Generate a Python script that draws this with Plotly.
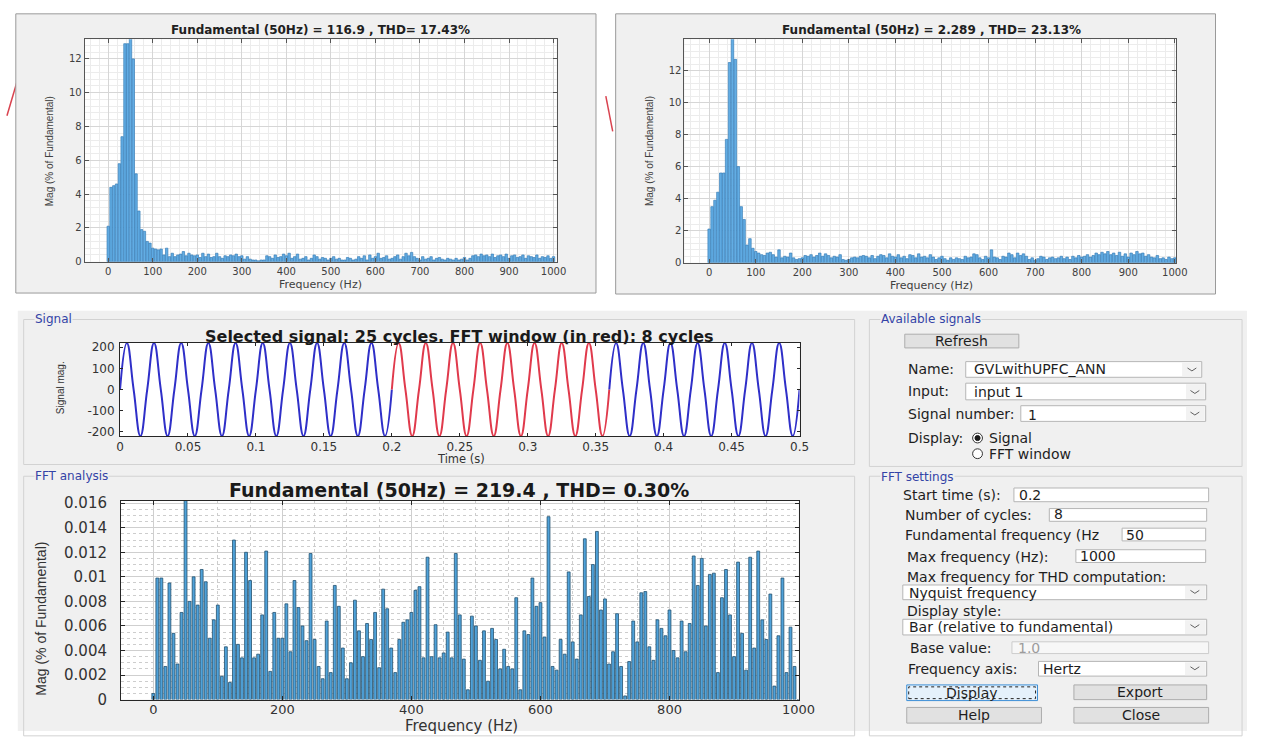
import plotly.graph_objects as go

W, H = 1263, 738

# ---------------- data ----------------
bin_hz = 6.25
freqs = [i * bin_hz for i in range(161)]

# upper-left FFT window (Mag % of fundamental); 50 Hz fundamental is off-scale
mag_upper_left = [
    2.1, 4.4, 4.5, 4.6, 5.8, 7.4, 12.9, 12.9, 100.0, 12.0,
    5.2, 3.0, 1.9, 1.8, 1.2, 1.1, 0.8, 0.75, 0.7, 0.75,
    0.4, 0.8, 0.3, 0.5, 0.3, 0.4, 0.45, 0.6, 0.35, 0.5,
    0.4, 0.35, 0.4, 0.25, 0.5, 0.3, 0.45, 0.25, 0.3, 0.5,
    0.3, 0.2, 0.35, 0.3, 0.4, 0.35, 0.45, 0.3, 0.35, 0.15,
    0.3, 0.15, 0.1, 0.1, 0.05, 0.1, 0.1, 0.35, 0.3, 0.2,
    0.4, 0.25, 0.3, 0.45, 0.35, 0.5, 0.2, 0.3, 0.45, 0.15,
    0.2, 0.3, 0.1, 0.2, 0.4, 0.3, 0.15, 0.25, 0.2, 0.1,
    0.2, 0.3, 0.15, 0.2, 0.1, 0.1, 0.25, 0.2, 0.1, 0.15,
    0.3, 0.2, 0.35, 0.1, 0.4, 0.2, 0.3, 0.5, 0.2, 0.25,
    0.35, 0.15, 0.2, 0.3, 0.4, 0.15, 0.3, 0.5, 0.35, 0.55,
    0.3, 0.2, 0.1, 0.3, 0.15, 0.2, 0.3, 0.1, 0.2, 0.25,
    0.15, 0.1, 0.2, 0.15, 0.1, 0.2, 0.1, 0.15, 0.25, 0.1,
    0.2, 0.35, 0.4, 0.3, 0.45, 0.35, 0.4, 0.3, 0.45, 0.25,
    0.35, 0.4, 0.3, 0.45, 0.2, 0.35, 0.4, 0.25, 0.3, 0.4,
    0.2, 0.35, 0.3, 0.25, 0.4, 0.2, 0.3, 0.25, 0.35, 0.2,
    0.3,
]

mag_upper_right = [
    2.1, 3.5, 3.9, 4.4, 5.6, 5.6, 7.7, 12.5, 100.0, 12.7,
    6.0, 3.5, 2.7, 1.1, 1.5, 0.9, 0.7, 0.6, 0.5, 0.45,
    0.6, 0.65, 0.5, 0.35, 0.8, 0.3, 0.4, 0.35, 0.6, 0.3,
    0.2, 0.25, 0.3, 0.45, 0.4, 0.5, 0.35, 0.45, 0.6, 0.4,
    0.55, 0.45, 0.3, 0.4, 0.35, 0.5, 0.2, 0.15, 0.2, 0.3,
    0.35, 0.3, 0.4, 0.45, 0.4, 0.3, 0.45, 0.25, 0.4, 0.5,
    0.45, 0.3, 0.55, 0.4, 0.35, 0.5, 0.3, 0.4, 0.25, 0.5,
    0.45, 0.3, 0.55, 0.35, 0.4, 0.3, 0.5, 0.35, 0.2, 0.3,
    0.4, 0.25, 0.15, 0.3, 0.2, 0.3, 0.25, 0.2, 0.4, 0.3,
    0.35, 0.55, 0.5, 0.3, 0.2, 0.4, 0.3, 0.8, 0.35, 0.3,
    0.2, 0.4, 0.35, 0.6, 0.5, 0.3, 0.6, 0.45, 0.55, 0.4,
    0.2, 0.3, 0.15, 0.25, 0.4, 0.35, 0.2, 0.3, 0.35, 0.25,
    0.3, 0.4, 0.25, 0.35, 0.2, 0.4, 0.3, 0.45, 0.35, 0.4,
    0.5, 0.35, 0.45, 0.6, 0.5, 0.65, 0.55, 0.7, 0.5, 0.6,
    0.45, 0.65, 0.4, 0.55, 0.35, 0.6, 0.5, 0.7, 0.55, 0.6,
    0.4, 0.5, 0.35, 0.3, 0.45, 0.25, 0.3, 0.2, 0.35, 0.25,
    0.3,
]

mag_fft_analysis = [
    0.0005, 0.0099, 0.0099, 0.0027, 0.0095, 0.0054, 0.0029, 0.0071, 100.0, 0.0080,
    0.0100, 0.0077, 0.0106, 0.0096, 0.0050, 0.0065, 0.0077, 0.0019, 0.0043, 0.0014,
    0.0130, 0.0045, 0.0034, 0.0120, 0.0097, 0.0034, 0.0037, 0.0069, 0.0121, 0.0023,
    0.0071, 0.0050, 0.0050, 0.0078, 0.0039, 0.0097, 0.0075, 0.0060, 0.0048, 0.0119,
    0.0049, 0.0027, 0.0017, 0.0064, 0.0022, 0.0093, 0.0076, 0.0042, 0.0017, 0.0030,
    0.0081, 0.0056, 0.0035, 0.0062, 0.0049, 0.0071, 0.0026, 0.0090, 0.0074, 0.0042,
    0.0022, 0.0049, 0.0063, 0.0065, 0.0071, 0.0089, 0.0092, 0.0034, 0.0116, 0.0035,
    0.0061, 0.0034, 0.0038, 0.0055, 0.0034, 0.0119, 0.0069, 0.0033, 0.0008, 0.0068,
    0.0060, 0.0032, 0.0056, 0.0015, 0.0058, 0.0049, 0.0025, 0.0041, 0.0027, 0.0025,
    0.0083, 0.0008, 0.0056, 0.0053, 0.0099, 0.0076, 0.0079, 0.0051, 0.0149, 0.0027,
    0.0024, 0.0049, 0.0037, 0.0104, 0.0047, 0.0033, 0.0069, 0.0131, 0.0084, 0.0110,
    0.0137, 0.0073, 0.0082, 0.0029, 0.0039, 0.0070, 0.0027, 0.0003, 0.0031, 0.0064,
    0.0047, 0.0087, 0.0088, 0.0043, 0.0032, 0.0065, 0.0058, 0.0052, 0.0073, 0.0040,
    0.0034, 0.0064, 0.0039, 0.0062, 0.0117, 0.0093, 0.0115, 0.0060, 0.0102, 0.0103,
    0.0022, 0.0083, 0.0106, 0.0069, 0.0035, 0.0112, 0.0054, 0.0024, 0.0116, 0.0042,
    0.0121, 0.0065, 0.0049, 0.0086, 0.0011, 0.0052, 0.0099, 0.0022, 0.0059, 0.0027,
    0.0,
]

# selected signal: peaks / zero crossings every quarter cycle (50 Hz, 25 cycles)
signal_time = [i * 0.005 for i in range(101)]
signal_mag = [0, 219.4, 0, -219.4] * 25 + [0]
fft_window_start_idx = 40   # t = 0.2 s
fft_window_end_idx = 72     # t = 0.36 s (8 cycles)

title_upper_left = "Fundamental (50Hz) = 116.9 , THD= 17.43%"
title_upper_right = "Fundamental (50Hz) = 2.289 , THD= 23.13%"
title_signal = "Selected signal: 25 cycles. FFT window (in red): 8 cycles"
title_fft = "Fundamental (50Hz) = 219.4 , THD= 0.30%"

top_x_ticks = list(range(0, 1001, 100))
top_y_ticks = [0, 2, 4, 6, 8, 10, 12]
sig_x_ticks = [0, 0.05, 0.1, 0.15, 0.2, 0.25, 0.3, 0.35, 0.4, 0.45, 0.5]
sig_x_text = ["0", "0.05", "0.1", "0.15", "0.2", "0.25", "0.3", "0.35", "0.4", "0.45", "0.5"]
sig_y_ticks = [-200, -100, 0, 100, 200]
sig_y_text = ["-200", "-100", "0", "100", "200"]
fft_x_ticks = [0, 200, 400, 600, 800, 1000]
fft_y_ticks = [0, 0.002, 0.004, 0.006, 0.008, 0.01, 0.012, 0.014, 0.016]
fft_y_text = ["0", "0.002", "0.004", "0.006", "0.008", "0.01", "0.012", "0.014", "0.016"]

# ---------------- helpers ----------------
def fx(x):
    return x / W


def fy(y):
    return 1 - y / H


shapes = []
annotations = []


def rect(x0, y0, x1, y1, fill=None, line=None, lw=1, dash=None):
    shapes.append(dict(
        type="rect", xref="paper", yref="paper",
        x0=fx(x0), x1=fx(x1), y0=fy(y1), y1=fy(y0),
        fillcolor=fill if fill else "rgba(0,0,0,0)",
        line=dict(color=line if line else "rgba(0,0,0,0)", width=lw if line else 0, dash=dash),
        layer="below"))


def seg(x0, y0, x1, y1, color, lw=1):
    shapes.append(dict(type="line", xref="paper", yref="paper",
                       x0=fx(x0), x1=fx(x1), y0=fy(y0), y1=fy(y1),
                       line=dict(color=color, width=lw), layer="below"))


def chevron(cx, cy, color="#606060"):
    path = "M {} {} L {} {} L {} {}".format(fx(cx - 4.5), fy(cy - 1.5), fx(cx), fy(cy + 1.5), fx(cx + 4.5), fy(cy - 1.5))
    shapes.append(dict(type="path", xref="paper", yref="paper", path=path,
                       line=dict(color=color, width=1), layer="above"))


def circle(cx, cy, r, fill=None, line="#333333", lw=1):
    shapes.append(dict(type="circle", xref="paper", yref="paper",
                       x0=fx(cx - r), x1=fx(cx + r), y0=fy(cy + r), y1=fy(cy - r),
                       fillcolor=fill if fill else "rgba(0,0,0,0)",
                       line=dict(color=line, width=lw), layer="above"))


def text(x, y, s, size=13, color="#1e1e1e", anchor="left", family="DejaVu Sans",
         bg=None, angle=0):
    d = dict(x=fx(x), y=fy(y), xref="paper", yref="paper", text=s, showarrow=False,
             xanchor=anchor, yanchor="middle", textangle=angle, borderpad=0,
             font=dict(family=family, size=size, color=color))
    if bg:
        d["bgcolor"] = bg
    annotations.append(d)


GUI_BG = "#f0f0f0"
PANEL_LINE = "#d2d2d2"
TITLE_BLUE = "#3343a6"

# ---------------- top figure windows ----------------
seg(3, 112, 13, 78, "#d9434f", 1.5)
seg(612, 92, 619, 128, "#d9434f", 1.5)
rect(12, 8, 602, 293, fill=GUI_BG, line="#9a9a9a")
rect(622, 8, 1232, 294, fill=GUI_BG, line="#9a9a9a")

TL = (82, 34, 562, 261)
TR = (692, 34, 1192, 262)
SG = (118, 344, 809, 439)
FA = (119, 505, 808, 708)

# ---------------- bottom GUI ----------------
rect(14, 311, 1264, 740, fill=GUI_BG)
rect(20, 320, 865, 468, line=PANEL_LINE)
rect(20, 480, 865, 745, line=PANEL_LINE)
rect(880, 320, 1259, 470, line=PANEL_LINE)
rect(880, 480, 1259, 745, line=PANEL_LINE)

for (x0, y0, x1, y1) in (TL, TR, SG, FA):
    rect(x0, y0, x1, y1, fill="white")

text(31, 320, "Signal", 12, TITLE_BLUE, bg=GUI_BG)
text(31, 480, "FFT analysis", 12, TITLE_BLUE, bg=GUI_BG)
text(891, 320, "Available signals", 12, TITLE_BLUE, bg=GUI_BG)
text(891, 481, "FFT settings", 12, TITLE_BLUE, bg=GUI_BG)

BTN = "#e1e1e1"
BTN_LINE = "#adadad"
BOX_LINE = "#b5b5b5"
LBL = 14

# Available signals
rect(916, 335, 1032, 349, fill=BTN, line=BTN_LINE)
text(974, 342, "Refresh", LBL, anchor="center")

text(918, 371, "Name:", LBL)
rect(978, 363, 1218, 379, fill="white", line=BOX_LINE)
rect(1198, 364, 1217, 378, fill="#f2f2f2")
text(985, 371, "GVLwithUPFC_ANN", LBL)
chevron(1208, 371)

text(918, 393, "Input:", LBL)
rect(978, 385, 1222, 402, fill="white", line=BOX_LINE)
rect(1202, 386, 1221, 401, fill="#f2f2f2")
text(985, 394, "input 1", LBL)
chevron(1211, 394)

text(918, 416, "Signal number:", LBL)
rect(1034, 408, 1222, 424, fill="white", line=BOX_LINE)
rect(1202, 409, 1221, 423, fill="#f2f2f2")
text(1040, 417, "1", LBL)
chevron(1211, 416)

text(918, 441, "Display:", LBL)
circle(990, 441, 5, fill="white", line="#333333")
circle(990, 441, 2.6, fill="#1a1a1a", line="#1a1a1a")
text(1001, 441, "Signal", LBL)
circle(990, 457, 5, fill="white", line="#333333")
text(1001, 457, "FFT window", LBL)

# FFT settings
text(913, 499, "Start time (s):", LBL)
rect(1027, 492, 1225, 506, fill="white", line=BOX_LINE)
text(1031, 499, "0.2", LBL)

text(915, 520, "Number of cycles:", LBL)
rect(1063, 513, 1223, 526, fill="white", line=BOX_LINE)
text(1067, 519, "8", LBL)

text(915, 540, "Fundamental frequency (Hz", LBL)
rect(1137, 533, 1222, 546, fill="white", line=BOX_LINE)
text(1140, 540, "50", LBL)

text(917, 562, "Max frequency (Hz):", LBL)
rect(1090, 555, 1222, 568, fill="white", line=BOX_LINE)
text(1093, 561, "1000", LBL)

text(917, 583, "Max frequency for THD computation:", LBL)
rect(914, 591, 1223, 606, fill="white", line=BOX_LINE)
rect(1201, 592, 1222, 605, fill="#f2f2f2")
text(919, 599, "Nyquist frequency", LBL)
chevron(1211, 598)

text(917, 618, "Display style:", LBL)
rect(914, 626, 1223, 642, fill="white", line=BOX_LINE)
rect(1201, 627, 1222, 641, fill="#f2f2f2")
text(919, 634, "Bar (relative to fundamental)", LBL)
chevron(1211, 633)

text(920, 655, "Base value:", LBL)
rect(1025, 649, 1225, 661, fill="#f7f7f7", line="#cccccc")
text(1030, 655, "1.0", LBL, color="#9c9c9c")

text(918, 677, "Frequency axis:", LBL)
rect(1052, 669, 1223, 684, fill="white", line=BOX_LINE)
rect(1201, 670, 1222, 683, fill="#f2f2f2")
text(1056, 677, "Hertz", LBL)
chevron(1211, 676)

rect(918, 693, 1051, 709, fill="#e5f1fb", line="#3c8fd6")
rect(920, 695, 1049, 707, line="#222222", lw=1, dash="dot")
text(984, 701, "Display", LBL, anchor="center")
rect(1088, 693, 1223, 708, fill=BTN, line=BTN_LINE)
text(1155, 700, "Export", LBL, anchor="center")
rect(918, 716, 1055, 732, fill=BTN, line=BTN_LINE)
text(986, 724, "Help", LBL, anchor="center")
rect(1088, 716, 1225, 732, fill=BTN, line=BTN_LINE)
text(1156, 724, "Close", LBL, anchor="center")

# ---------------- chart titles & axis titles ----------------
text(322, 25, "<b>" + title_upper_left + "</b>", 12, "#202020", anchor="center")
text(943, 25, "<b>" + title_upper_right + "</b>", 12, "#202020", anchor="center")
text(322, 284, "Frequency (Hz)", 11, "#404040", anchor="center")
text(943, 285, "Frequency (Hz)", 11, "#404040", anchor="center")
text(47, 148, "Mag (% of Fundamental)", 10, "#404040", anchor="center",
     family="Liberation Sans", angle=-90)
text(657, 148, "Mag (% of Fundamental)", 10, "#404040", anchor="center",
     family="Liberation Sans", angle=-90)

text(463, 337, "<b>" + title_signal + "</b>", 16, "#1a1a1a", anchor="center")
text(465, 462, "Time (s)", 11.5, "#333333", anchor="center")
text(57, 390, "Signal mag.", 10, "#333333", anchor="center",
     family="Liberation Sans", angle=-90)

text(463, 494, "<b>" + title_fft + "</b>", 19, "#1a1a1a", anchor="center")
text(465, 735, "Frequency (Hz)", 15, "#333333", anchor="center")
text(38, 625, "Mag (% of Fundamental)", 14, "#333333", anchor="center",
     family="Liberation Sans", angle=-90)

# ---------------- traces ----------------
fig = go.Figure()

top_bar_style = dict(marker=dict(color="#62ade4", line=dict(color="#3b7fb8", width=0.7)),
                     width=5.4, hoverinfo="skip", showlegend=False)
fig.add_trace(go.Bar(x=freqs, y=mag_upper_left, xaxis="x", yaxis="y", **top_bar_style))
fig.add_trace(go.Bar(x=freqs, y=mag_upper_right, xaxis="x2", yaxis="y2", **top_bar_style))

segments = [
    (0, fft_window_start_idx, "#2f2fc8"),
    (fft_window_start_idx, fft_window_end_idx, "#e03a4c"),
    (fft_window_end_idx, len(signal_time) - 1, "#2f2fc8"),
]
for a, b, col in segments:
    fig.add_trace(go.Scatter(
        x=signal_time[a:b + 1], y=signal_mag[a:b + 1], mode="lines",
        line=dict(color=col, width=2, shape="spline", smoothing=1.3),
        xaxis="x3", yaxis="y3", hoverinfo="skip", showlegend=False))

fig.add_trace(go.Bar(x=freqs, y=mag_fft_analysis, xaxis="x4", yaxis="y4", width=4.4,
                     marker=dict(color="#4fa2da", line=dict(color="#23506f", width=0.8)),
                     hoverinfo="skip", showlegend=False))

# ---------------- axes ----------------
AX = "#262626"


def base_axis(**kw):
    d = dict(showline=True, linecolor=AX, linewidth=1, mirror="ticks", ticks="inside",
             ticklen=4, tickcolor=AX, tickwidth=1, zeroline=False, fixedrange=True)
    d.update(kw)
    return d


top_tickfont = dict(family="DejaVu Sans", size=10, color="#404040")
top_grid = dict(showgrid=True, gridcolor="#d6d6d6", gridwidth=1)


def top_x(domain, rng, anchor):
    return base_axis(domain=domain, range=rng, anchor=anchor, tickmode="array",
                     tickvals=top_x_ticks, tickfont=top_tickfont, linecolor="#555555",
                     tickcolor="#555555",
                     minor=dict(tickmode="linear", tick0=0, dtick=20, showgrid=True,
                                gridcolor="#ececec", gridwidth=1),
                     **top_grid)


def top_y(domain, rng, anchor):
    return base_axis(domain=domain, range=rng, anchor=anchor, tickmode="array",
                     tickvals=top_y_ticks, tickfont=top_tickfont, linecolor="#555555",
                     tickcolor="#555555",
                     minor=dict(tickmode="linear", tick0=0, dtick=0.4, showgrid=True,
                                gridcolor="#ececec", gridwidth=1),
                     **top_grid)


fig.update_layout(
    xaxis=top_x([fx(TL[0]), fx(TL[2])], [-53, 1007], "y"),
    yaxis=top_y([fy(TL[3]), fy(TL[1])], [0, 13.16], "x"),
    xaxis2=top_x([fx(TR[0]), fx(TR[2])], [-53, 1003], "y2"),
    yaxis2=top_y([fy(TR[3]), fy(TR[1])], [0, 13.95], "x2"),
    xaxis3=base_axis(domain=[fx(SG[0]), fx(SG[2])], range=[0, 0.5], anchor="y3",
                     tickmode="array", tickvals=sig_x_ticks, ticktext=sig_x_text,
                     tickfont=dict(family="DejaVu Sans", size=12, color="#333333"),
                     showgrid=False, ticklen=3),
    yaxis3=base_axis(domain=[fy(SG[3]), fy(SG[1])], range=[-219.4, 219.4], anchor="x3",
                     tickmode="array", tickvals=sig_y_ticks, ticktext=sig_y_text,
                     tickfont=dict(family="DejaVu Sans", size=12, color="#333333"),
                     showgrid=False, ticklen=3, ticklabelstandoff=2),
    xaxis4=base_axis(domain=[fx(FA[0]), fx(FA[2])], range=[-50, 1000], anchor="y4",
                     tickmode="array", tickvals=fft_x_ticks,
                     tickfont=dict(family="DejaVu Sans", size=13, color="#333333"),
                     ticklabelstandoff=-2,
                     showgrid=True, gridcolor="#cfcfcf", gridwidth=1,
                     minor=dict(tickmode="linear", tick0=0, dtick=50, showgrid=True,
                                gridcolor="#cdcdcd", griddash="dot", gridwidth=1)),
    yaxis4=base_axis(domain=[fy(FA[3]), fy(FA[1])], range=[0, 0.0162], anchor="x4",
                     tickmode="array", tickvals=fft_y_ticks, ticktext=fft_y_text,
                     tickfont=dict(family="DejaVu Sans", size=15, color="#333333"),
                     ticklabelstandoff=10,
                     showgrid=True, gridcolor="#cfcfcf", gridwidth=1,
                     minor=dict(tickmode="linear", tick0=0, dtick=0.0005, showgrid=True,
                                gridcolor="#cdcdcd", griddash="dot", gridwidth=1)),
    autosize=True, margin=dict(l=0, r=0, t=0, b=0),
    paper_bgcolor="white", plot_bgcolor="white",
    showlegend=False, shapes=shapes, annotations=annotations,
    barmode="overlay",
)

# make the figure fill the browser viewport exactly (all positions are in paper units)
page_fix = (
    "document.documentElement.style.margin='0';"
    "document.body.style.margin='0';document.body.style.padding='0';"
    "document.body.style.overflow='hidden';"
    "var gd=document.getElementById('{plot_id}');"
    "gd.style.position='fixed';gd.style.left='0px';gd.style.top='0px';"
    "gd.style.width='100vw';gd.style.height='100vh';"
    "Plotly.relayout(gd,{autosize:true});"
)
fig.write_html("out.html", config={"displayModeBar": False, "responsive": True},
               default_width="100vw", default_height="100vh", post_script=page_fix)
